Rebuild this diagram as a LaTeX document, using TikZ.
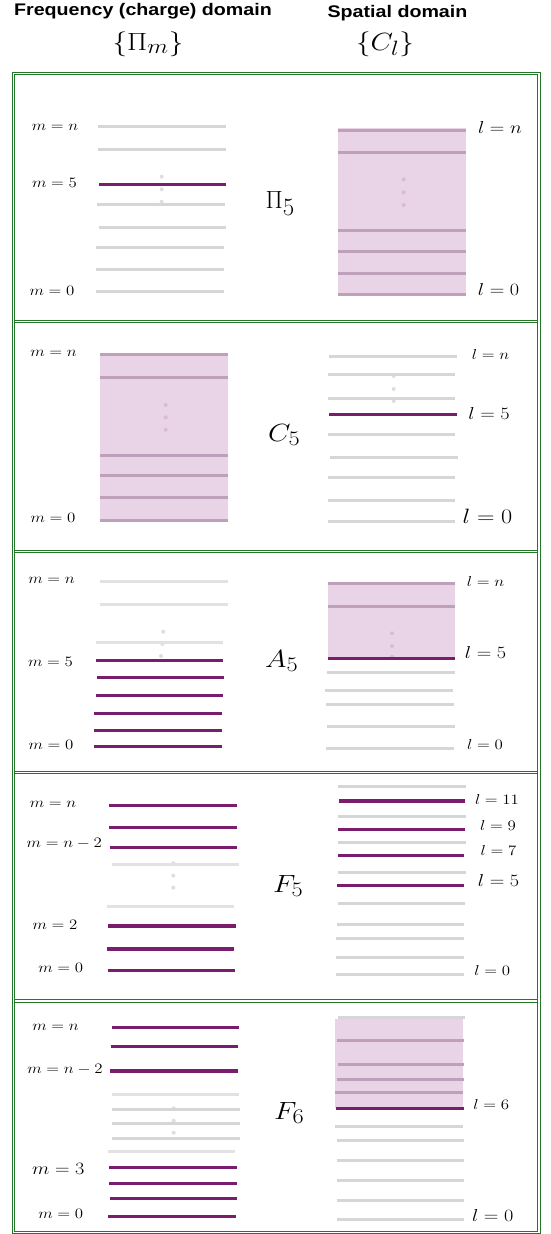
\documentclass[tikz,border=0pt]{standalone}
\usepackage[no-math]{fontspec}
\newfontfamily\headfont{Liberation Sans}
\newcommand\fsz[1]{\fontsize{#1}{#1}\selectfont}
\newcommand\sx[1]{\scalebox{1.17}[1]{#1}}
\definecolor{purp}{RGB}{122,29,110}
\definecolor{lgray}{RGB}{214,214,214}
\definecolor{vlgray}{RGB}{226,226,226}
\definecolor{pinkfill}{RGB}{233,211,231}
\definecolor{pinkline}{RGB}{190,160,186}
\definecolor{dotgray}{RGB}{222,222,222}
\definecolor{pinkdot}{RGB}{214,188,211}
\definecolor{fgreen}{RGB}{36,118,40}
\newcommand\hln[4]{\draw[#1] (#2,#4) -- (#3,#4);}
\begin{document}
\begin{tikzpicture}[x=1pt,y=-1pt,
  gl/.style={line width=3pt, color=lgray},
  vl/.style={line width=3pt, color=vlgray},
  pl/.style={line width=3.2pt, color=purp},
  kl/.style={line width=3pt, color=pinkline},
  lab/.style={inner sep=0pt, anchor=mid},
  big/.style={inner sep=0pt, anchor=base west, font=\fsz{28.5}},
  frm/.style={draw=fgreen, double=white, double distance=1.3pt, line width=1pt},
  pk/.style={fill=pinkfill},
  dg/.style={fill=dotgray},
  dp/.style={fill=pinkdot}
]
\useasboundingbox (0,0) rectangle (551,1234);

% headers
\node[anchor=base, inner sep=0pt, font=\headfont\bfseries\fsz{16.8}] (h1) at (143,15) {\sx{Frequency (charge) domain}};
\node[anchor=base, inner sep=0pt, font=\headfont\bfseries\fsz{16.8}] (h2) at (397.5,17.3) {\sx{Spatial domain}};
\node[anchor=base, inner sep=0pt, font=\fsz{28}] (h3) at (148,50) {\sx{$\{\Pi_m\}$}};
\node[anchor=base, inner sep=0pt, font=\fsz{28}] (h4) at (385,50) {\sx{$\{C_l\}$}};

% frame
\foreach \yy in {321.2,551.7,772.2,1001} {\draw[frm] (15.2,\yy) -- (537.4,\yy);}
\draw[frm] (13.6,73.8) rectangle (539,1232.3);

% ---------- panel 1 ----------
\foreach \yy in {176.7,189.3,201.7} {\fill[dg] (161.7,\yy) circle (2);}
\hln{gl}{98}{226}{126.7}
\hln{gl}{98}{226}{149}
\hln{pl}{99}{226}{184.3}
\hln{gl}{97}{225}{204.3}
\hln{gl}{99}{226}{227.7}
\hln{gl}{96}{224}{247.7}
\hln{gl}{96}{224}{269.3}
\hln{gl}{96}{224}{291.7}
\node[lab, font=\fsz{14.5}] (a1) at (55,128) {\sx{$m=n$}};
\node[lab, font=\fsz{14.5}] (a2) at (54.5,185) {\sx{$m=5$}};
\node[lab, font=\fsz{14.5}] (a3) at (52,293) {\sx{$m=0$}};
\fill[pk] (338,128.3) rectangle (466,295);
\foreach \yy in {179.3,192.3,205} {\fill[dp] (403.7,\yy) circle (2);}
\foreach \yy in {130,152.7,230,251,273.3,294.3} {\hln{kl}{338}{466}{\yy}}
\node[lab, font=\fsz{17.1}] (a4) at (500,131.7) {\sx{$l=n$}};
\node[lab, font=\fsz{16.2}] (a5) at (498.5,293.3) {\sx{$l=0$}};
\node[inner sep=0pt, anchor=base west, font=\fsz{33}] (P5) at (265.5,208.3) {$\Pi_5$};

% ---------- panel 2 ----------
\fill[pk] (100,353.3) rectangle (228.3,521.7);
\foreach \yy in {405,417.3,429.7} {\fill[dp] (165.7,\yy) circle (2);}
\foreach \yy in {354.3,377.3,455,475.3,497.7,520} {\hln{kl}{100}{228.3}{\yy}}
\node[lab, font=\fsz{14.3}] (b1) at (53.5,354) {\sx{$m=n$}};
\node[lab, font=\fsz{14.3}] (b2) at (53,520) {\sx{$m=0$}};
\node[big] (C5) at (268,441) {\sx{$C_5$}};
\foreach \yy in {376,389,401} {\fill[dg] (393.7,\yy) circle (2);}
\hln{gl}{329.3}{456.7}{356.3}
\hln{gl}{328}{455}{374.3}
\hln{gl}{328}{455}{398}
\hln{pl}{329.3}{456.7}{414.3}
\hln{gl}{328}{455}{434.3}
\hln{gl}{330}{458}{457.7}
\hln{gl}{328}{455}{477.7}
\hln{gl}{328}{455}{500}
\hln{gl}{328}{455}{521.7}
\node[lab, font=\fsz{15.7}] (b3) at (490.5,357.7) {\sx{$l=n$}};
\node[lab, font=\fsz{17.1}] (b4) at (489,417.7) {\sx{$l=5$}};
\node[lab, font=\fsz{19.7}] (b5) at (487.5,521.7) {\sx{$l=0$}};

% ---------- panel 3 ----------
\fill[dg] (163.3,631.7) circle (2);
\fill[dg] (162.3,644) circle (2);
\fill[dg] (161,656) circle (2);
\hln{vl}{100}{227.7}{581}
\hln{vl}{100}{227.7}{604}
\hln{vl}{96}{222.7}{642.3}
\hln{pl}{96}{223}{660.3}
\hln{pl}{96.7}{224}{677.3}
\hln{pl}{96}{223}{695.3}
\hln{pl}{94}{221.7}{713.3}
\hln{pl}{94}{221.7}{730.7}
\hln{pl}{94}{221.7}{746.3}
\node[lab, font=\fsz{14.9}] (c1) at (51.5,581.7) {\sx{$m=n$}};
\node[lab, font=\fsz{15.1}] (c2) at (50.5,664) {\sx{$m=5$}};
\node[lab, font=\fsz{14.5}] (c3) at (51,747.3) {\sx{$m=0$}};
\node[big] (A5) at (265,667) {\sx{$A_5$}};
\fill[pk] (327.7,581.7) rectangle (455.3,658.3);
\foreach \yy in {633.3,646,656.7} {\fill[dp] (392,\yy) circle (2);}
\hln{kl}{327.7}{455.3}{583.3}
\hln{kl}{327.7}{455.3}{606.3}
\hln{pl}{327.7}{455.3}{658.3}
\hln{gl}{327}{454.7}{672.3}
\hln{gl}{325.3}{453}{690}
\hln{gl}{326}{453.7}{704.3}
\hln{gl}{327}{454.7}{726.7}
\hln{gl}{326}{453.7}{748.3}
\node[lab, font=\fsz{15.7}] (c4) at (485.5,584.3) {\sx{$l=n$}};
\node[lab, font=\fsz{16.4}] (c5) at (485.5,656.7) {\sx{$l=5$}};
\node[lab, font=\fsz{14}] (c6) at (485,747.3) {\sx{$l=0$}};

% ---------- panel 4 ----------
\foreach \yy in {863.3,875.7,887.7} {\fill[dg] (173.3,\yy) circle (2);}
\hln{pl}{109.3}{236.7}{805.7}
\hln{pl}{109.3}{236.7}{827.3}
\hln{pl}{110}{237.3}{847.3}
\hln{vl}{111.7}{239}{864}
\hln{vl}{106.7}{234.3}{906.7}
\hln{pl}{108.3}{235.7}{926}
\hln{pl}{107.3}{234.3}{949}
\hln{pl}{107.7}{235}{970.7}
\node[lab, font=\fsz{14.5}] (d1) at (53,805.7) {\sx{$m=n$}};
\node[lab, font=\fsz{13.8}] (d2) at (64.3,845) {\sx{$m=n-2$}};
\node[lab, font=\fsz{14.7}] (d3) at (55,927.3) {\sx{$m=2$}};
\node[lab, font=\fsz{14.7}] (d4) at (60.7,970) {\sx{$m=0$}};
\node[big] (F5) at (273,892) {\sx{$F_5$}};
\hln{gl}{337.7}{466}{786.7}
\hln{pl}{338.7}{465.3}{801}
\hln{gl}{337.7}{466}{816}
\hln{pl}{338}{465.3}{829.3}
\hln{gl}{338}{466}{842.7}
\hln{pl}{337.7}{464.3}{855.3}
\hln{gl}{338}{466}{872}
\hln{pl}{337}{463.7}{885.7}
\hln{gl}{337.7}{465}{903.7}
\hln{gl}{337}{464.3}{924}
\hln{gl}{336.3}{463.7}{938}
\hln{gl}{336.3}{463.7}{957.3}
\hln{gl}{336.3}{463.7}{974}
\node[lab, font=\fsz{14.4}] (d5) at (497,802.3) {\sx{$l=11$}};
\node[lab, font=\fsz{15.8}] (d6) at (498,828.3) {\sx{$l=9$}};
\node[lab, font=\fsz{15.4}] (d7) at (498.5,853.3) {\sx{$l=7$}};
\node[lab, font=\fsz{16.4}] (d8) at (498.5,884) {\sx{$l=5$}};
\node[lab, font=\fsz{15.7}] (d9) at (492.3,973.3) {\sx{$l=0$}};

% ---------- panel 5 ----------
\foreach \yy in {1108.3,1120.7,1132.7} {\fill[dg] (173.7,\yy) circle (2);}
\hln{pl}{111.7}{239}{1027.7}
\hln{pl}{110.7}{238}{1046.7}
\hln{pl}{110}{238}{1071}
\hln{vl}{111.7}{239}{1094}
\hln{gl}{112.3}{239.7}{1109.3}
\hln{gl}{112.3}{239.7}{1123.7}
\hln{gl}{112.3}{239.7}{1138.7}
\hln{vl}{108.3}{235.3}{1151.7}
\hln{pl}{109.3}{236.7}{1167.7}
\hln{pl}{109.3}{236.7}{1183.3}
\hln{pl}{110}{237.3}{1198.7}
\hln{pl}{108.3}{235.7}{1216.7}
\node[lab, font=\fsz{14.9}] (e1) at (55.5,1028.7) {\sx{$m=n$}};
\node[lab, font=\fsz{13.8}] (e2) at (65,1071) {\sx{$m=n-2$}};
\node[lab, font=\fsz{16.8}] (e3) at (58.3,1172) {\sx{$m=3$}};
\node[lab, font=\fsz{15.2}] (e4) at (60.8,1216.7) {\sx{$m=0$}};
\node[big] (F6) at (274,1119) {\sx{$F_6$}};
\hln{gl}{337.7}{465}{1017.3}
\fill[pk] (335,1019.3) rectangle (463.3,1108.3);
\hln{kl}{336.7}{463.7}{1040}
\hln{kl}{337.7}{464.3}{1064.7}
\hln{kl}{336.7}{463.7}{1079.3}
\hln{kl}{335}{462.7}{1092.7}
\hln{pl}{336}{463.7}{1108.3}
\hln{gl}{335}{462.7}{1126}
\hln{gl}{336.7}{464.3}{1140.3}
\hln{gl}{336.7}{464.3}{1160.3}
\hln{gl}{336.7}{464.3}{1180.7}
\hln{gl}{336.7}{464.3}{1200}
\hln{gl}{336.7}{464.3}{1219.3}
\node[lab, font=\fsz{15.7}] (e5) at (491.3,1107.3) {\sx{$l=6$}};
\node[lab, font=\fsz{16.1}] (e6) at (492.7,1219.3) {\sx{$l=0$}};
\end{tikzpicture}
\end{document}
